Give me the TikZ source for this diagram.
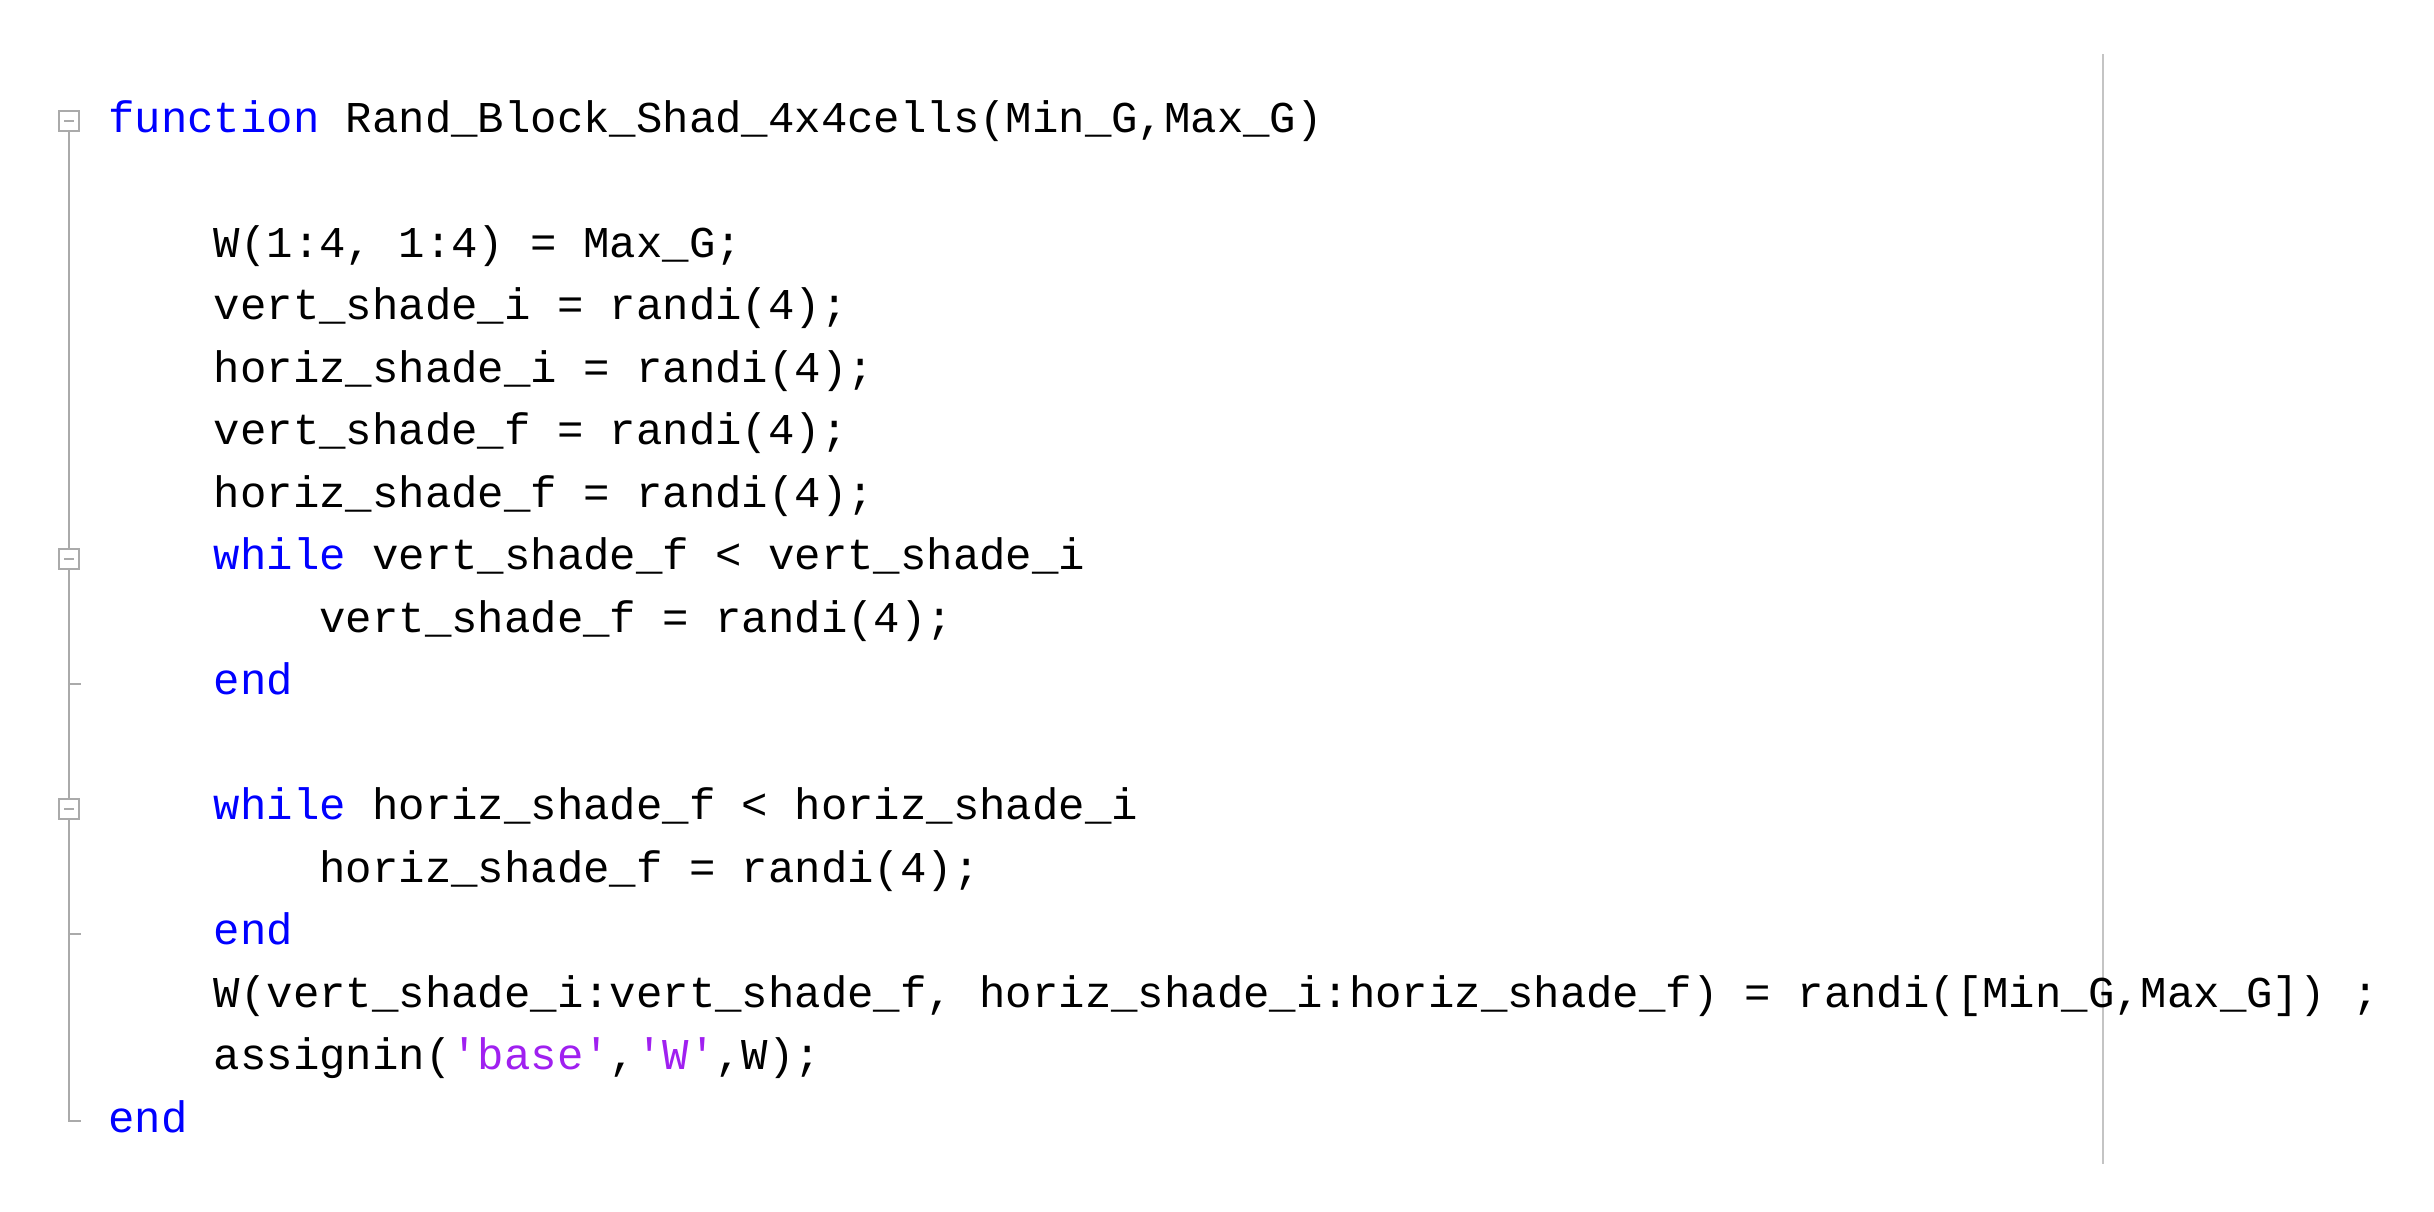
\documentclass[tikz,border=0pt]{standalone}
\usepackage{fontspec}
\setmonofont{Liberation Mono}
\definecolor{kwblue}{RGB}{0,0,255}
\definecolor{strpurple}{RGB}{160,32,240}
\definecolor{foldgray}{RGB}{170,170,170}
\newcommand{\kwd}[1]{\textcolor{kwblue}{#1}}
\newcommand{\strg}[1]{\textcolor{strpurple}{\char39 #1\char39}}
\begin{document}
\begin{tikzpicture}[x=1pt,y=-1pt,
  code/.style={anchor=base west,inner sep=0pt,font=\fontsize{44}{50}\selectfont\ttfamily,text=black},
  fold/.style={draw=foldgray,line width=2pt},
  box/.style={draw=foldgray,line width=2pt,fill=white,minimum size=20pt,inner sep=0pt}]
\useasboundingbox (0,0) rectangle (2434,1211);
\def\ln#1{132+62.5*#1}
\def\c{26.4}
% fold gutter
\coordinate (top) at (69,\ln{0}-11);
\coordinate (bot) at (69,\ln{16}-11);
\draw[fold] (top) -- (bot) -- ++(12,0);
\draw[fold] (69,\ln{9}-11) -- ++(12,0);
\draw[fold] (69,\ln{13}-11) -- ++(12,0);
\node[box] (f0) at (69,\ln{0}-11) {};
\node[box] (f7) at (69,\ln{7}-11) {};
\node[box] (f11) at (69,\ln{11}-11) {};
\foreach \b in {f0,f7,f11}{\draw[foldgray,line width=2pt] ([xshift=-5pt]\b.center) -- ([xshift=5pt]\b.center);}
% separator
\draw[foldgray!70,line width=2pt] (2103,54) -- (2103,1164);
% code
\node[code] (l0) at (108,\ln{0}) {\kwd{function} Rand\_Block\_Shad\_4x4cells(Min\_G,Max\_G)};
\node[code] (l2) at (108+4*\c,\ln{2}) {W(1:4, 1:4) = Max\_G;};
\node[code] (l3) at (108+4*\c,\ln{3}) {vert\_shade\_i = randi(4);};
\node[code] (l4) at (108+4*\c,\ln{4}) {horiz\_shade\_i = randi(4);};
\node[code] (l5) at (108+4*\c,\ln{5}) {vert\_shade\_f = randi(4);};
\node[code] (l6) at (108+4*\c,\ln{6}) {horiz\_shade\_f = randi(4);};
\node[code] (l7) at (108+4*\c,\ln{7}) {\kwd{while} vert\_shade\_f < vert\_shade\_i};
\node[code] (l8) at (108+8*\c,\ln{8}) {vert\_shade\_f = randi(4);};
\node[code] (l9) at (108+4*\c,\ln{9}) {\kwd{end}};
\node[code] (l11) at (108+4*\c,\ln{11}) {\kwd{while} horiz\_shade\_f < horiz\_shade\_i};
\node[code] (l12) at (108+8*\c,\ln{12}) {horiz\_shade\_f = randi(4);};
\node[code] (l13) at (108+4*\c,\ln{13}) {\kwd{end}};
\node[code] (l14) at (108+4*\c,\ln{14}) {W(vert\_shade\_i:vert\_shade\_f, horiz\_shade\_i:horiz\_shade\_f) = randi([Min\_G,Max\_G]) ;};
\node[code] (l15) at (108+4*\c,\ln{15}) {assignin(\strg{base},\strg{W},W);};
\node[code] (l16) at (108,\ln{16}) {\kwd{end}};
\end{tikzpicture}
\end{document}
